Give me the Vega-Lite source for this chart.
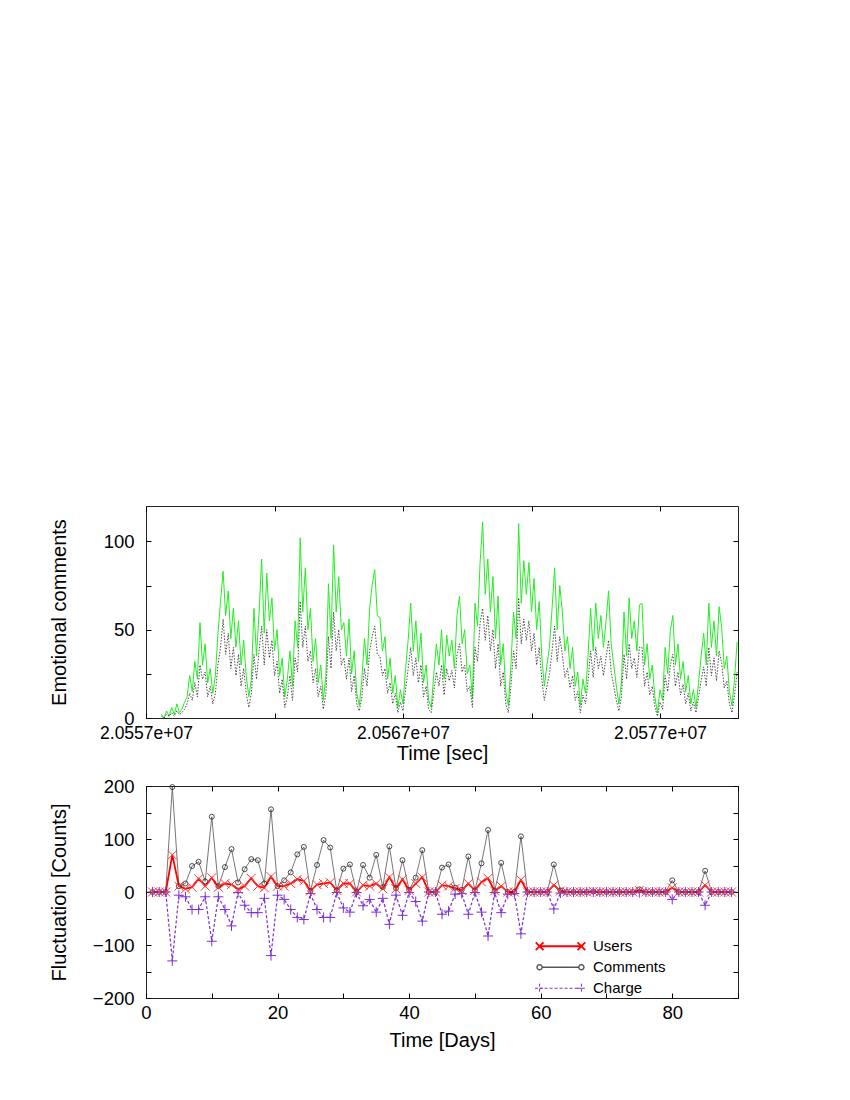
{
  "$schema": "https://vega.github.io/schema/vega-lite/v6.json",
  "background": "white",
  "padding": {"left": 48, "top": 505, "right": 10, "bottom": 10},
  "spacing": 12,
  "config": {
    "font": "Liberation Sans",
    "view": {"stroke": "#222222", "strokeWidth": 1},
    "axis": {"domain": false, "grid": false, "tickColor": "#000000", "tickSize": -5, "labelColor": "#000000", "titleColor": "#000000", "labelFont": "Liberation Sans", "titleFont": "Liberation Sans", "titleFontWeight": "normal", "labelFontSize": 18.5, "titleFontSize": 20, "labelFlush": false, "labelOverlap": false}
  },
  "vconcat": [
    {
      "width": 592,
      "height": 212,
      "data": {"values": [
        {"t":20557600,"g":2,"k":1},{"t":20557700,"g":0,"k":0},{"t":20557800,"g":4,"k":2},{"t":20557900,"g":1,"k":1},{"t":20558000,"g":6,"k":3},
        {"t":20558100,"g":2,"k":1},{"t":20558200,"g":8,"k":4},{"t":20558300,"g":3,"k":2},{"t":20558400,"g":5,"k":3},{"t":20558500,"g":9,"k":5},
        {"t":20558600,"g":12,"k":8},{"t":20558700,"g":24,"k":14},{"t":20558800,"g":15,"k":10},{"t":20558900,"g":32,"k":20},{"t":20559000,"g":22,"k":12},
        {"t":20559100,"g":54,"k":30},{"t":20559200,"g":30,"k":22},{"t":20559300,"g":42,"k":26},{"t":20559400,"g":20,"k":12},{"t":20559500,"g":28,"k":18},
        {"t":20559600,"g":14,"k":8},{"t":20559700,"g":24,"k":14},{"t":20559800,"g":48,"k":30},{"t":20559900,"g":66,"k":40},{"t":20560000,"g":83,"k":56},
        {"t":20560100,"g":58,"k":36},{"t":20560200,"g":72,"k":48},{"t":20560300,"g":45,"k":28},{"t":20560400,"g":62,"k":40},{"t":20560500,"g":40,"k":24},
        {"t":20560600,"g":55,"k":36},{"t":20560700,"g":30,"k":18},{"t":20560800,"g":44,"k":28},{"t":20560900,"g":24,"k":14},{"t":20561000,"g":12,"k":6},
        {"t":20561100,"g":22,"k":14},{"t":20561200,"g":62,"k":36},{"t":20561300,"g":35,"k":22},{"t":20561400,"g":60,"k":38},{"t":20561500,"g":90,"k":52},
        {"t":20561600,"g":48,"k":30},{"t":20561700,"g":82,"k":50},{"t":20561800,"g":55,"k":34},{"t":20561900,"g":68,"k":44},{"t":20562000,"g":38,"k":24},
        {"t":20562100,"g":50,"k":32},{"t":20562200,"g":24,"k":14},{"t":20562300,"g":34,"k":22},{"t":20562400,"g":12,"k":6},{"t":20562500,"g":22,"k":12},
        {"t":20562600,"g":38,"k":24},{"t":20562700,"g":18,"k":10},{"t":20562800,"g":55,"k":34},{"t":20562900,"g":40,"k":26},{"t":20563000,"g":102,"k":66},
        {"t":20563100,"g":60,"k":40},{"t":20563200,"g":85,"k":52},{"t":20563300,"g":50,"k":32},{"t":20563400,"g":62,"k":38},{"t":20563500,"g":32,"k":20},
        {"t":20563600,"g":45,"k":28},{"t":20563700,"g":20,"k":12},{"t":20563800,"g":30,"k":18},{"t":20563900,"g":10,"k":5},{"t":20564000,"g":24,"k":14},
        {"t":20564100,"g":76,"k":46},{"t":20564200,"g":45,"k":28},{"t":20564300,"g":98,"k":60},{"t":20564400,"g":60,"k":38},{"t":20564500,"g":80,"k":50},
        {"t":20564600,"g":50,"k":30},{"t":20564700,"g":54,"k":34},{"t":20564800,"g":35,"k":22},{"t":20564900,"g":56,"k":34},{"t":20565000,"g":25,"k":15},
        {"t":20565100,"g":38,"k":24},{"t":20565200,"g":14,"k":8},{"t":20565300,"g":7,"k":4},{"t":20565400,"g":22,"k":12},{"t":20565500,"g":45,"k":28},
        {"t":20565600,"g":30,"k":18},{"t":20565700,"g":62,"k":38},{"t":20565800,"g":75,"k":46},{"t":20565900,"g":84,"k":52},{"t":20566000,"g":58,"k":36},
        {"t":20566100,"g":57,"k":35},{"t":20566200,"g":38,"k":24},{"t":20566300,"g":46,"k":28},{"t":20566400,"g":22,"k":14},{"t":20566500,"g":34,"k":20},
        {"t":20566600,"g":14,"k":8},{"t":20566700,"g":24,"k":14},{"t":20566800,"g":6,"k":3},{"t":20566900,"g":16,"k":9},{"t":20567000,"g":8,"k":4},
        {"t":20567100,"g":28,"k":16},{"t":20567200,"g":44,"k":28},{"t":20567300,"g":65,"k":40},{"t":20567400,"g":38,"k":24},{"t":20567500,"g":55,"k":34},
        {"t":20567600,"g":32,"k":20},{"t":20567700,"g":48,"k":30},{"t":20567800,"g":20,"k":12},{"t":20567900,"g":30,"k":18},{"t":20568000,"g":10,"k":5},
        {"t":20568100,"g":6,"k":3},{"t":20568200,"g":25,"k":15},{"t":20568300,"g":42,"k":26},{"t":20568400,"g":30,"k":18},{"t":20568500,"g":50,"k":30},
        {"t":20568600,"g":22,"k":13},{"t":20568700,"g":47,"k":28},{"t":20568800,"g":35,"k":21},{"t":20568900,"g":44,"k":27},{"t":20569000,"g":28,"k":17},
        {"t":20569100,"g":58,"k":36},{"t":20569200,"g":69,"k":42},{"t":20569300,"g":42,"k":26},{"t":20569400,"g":50,"k":30},{"t":20569500,"g":25,"k":15},
        {"t":20569600,"g":30,"k":18},{"t":20569700,"g":11,"k":6},{"t":20569800,"g":65,"k":40},{"t":20569900,"g":52,"k":32},{"t":20570000,"g":88,"k":54},
        {"t":20570100,"g":111,"k":62},{"t":20570200,"g":70,"k":44},{"t":20570300,"g":90,"k":58},{"t":20570400,"g":60,"k":38},{"t":20570500,"g":80,"k":50},
        {"t":20570600,"g":45,"k":28},{"t":20570700,"g":69,"k":42},{"t":20570800,"g":30,"k":18},{"t":20570900,"g":42,"k":26},{"t":20571000,"g":15,"k":8},
        {"t":20571100,"g":7,"k":3},{"t":20571200,"g":30,"k":18},{"t":20571300,"g":60,"k":38},{"t":20571400,"g":45,"k":28},{"t":20571500,"g":110,"k":68},
        {"t":20571600,"g":65,"k":42},{"t":20571700,"g":89,"k":56},{"t":20571800,"g":70,"k":44},{"t":20571900,"g":88,"k":55},{"t":20572000,"g":60,"k":38},
        {"t":20572100,"g":79,"k":48},{"t":20572200,"g":50,"k":30},{"t":20572300,"g":66,"k":40},{"t":20572400,"g":35,"k":22},{"t":20572500,"g":18,"k":10},
        {"t":20572600,"g":30,"k":18},{"t":20572700,"g":40,"k":25},{"t":20572800,"g":62,"k":38},{"t":20572900,"g":85,"k":52},{"t":20573000,"g":50,"k":32},
        {"t":20573100,"g":75,"k":46},{"t":20573200,"g":60,"k":36},{"t":20573300,"g":38,"k":23},{"t":20573400,"g":46,"k":28},{"t":20573500,"g":28,"k":17},
        {"t":20573600,"g":40,"k":24},{"t":20573700,"g":18,"k":10},{"t":20573800,"g":26,"k":15},{"t":20573900,"g":7,"k":3},{"t":20574000,"g":22,"k":13},
        {"t":20574100,"g":14,"k":8},{"t":20574200,"g":35,"k":21},{"t":20574300,"g":62,"k":38},{"t":20574400,"g":38,"k":23},{"t":20574500,"g":65,"k":40},
        {"t":20574600,"g":45,"k":28},{"t":20574700,"g":58,"k":35},{"t":20574800,"g":40,"k":24},{"t":20574900,"g":55,"k":34},{"t":20575000,"g":72,"k":44},
        {"t":20575100,"g":42,"k":26},{"t":20575200,"g":30,"k":18},{"t":20575300,"g":18,"k":10},{"t":20575400,"g":8,"k":4},{"t":20575500,"g":20,"k":12},
        {"t":20575600,"g":60,"k":36},{"t":20575700,"g":35,"k":22},{"t":20575800,"g":68,"k":42},{"t":20575900,"g":45,"k":28},{"t":20576000,"g":55,"k":34},
        {"t":20576100,"g":38,"k":23},{"t":20576200,"g":64,"k":40},{"t":20576300,"g":65,"k":40},{"t":20576400,"g":30,"k":18},{"t":20576500,"g":42,"k":26},
        {"t":20576600,"g":22,"k":13},{"t":20576700,"g":30,"k":18},{"t":20576800,"g":12,"k":6},{"t":20576900,"g":3,"k":1},{"t":20577000,"g":16,"k":9},
        {"t":20577100,"g":10,"k":5},{"t":20577200,"g":40,"k":24},{"t":20577300,"g":25,"k":15},{"t":20577400,"g":49,"k":30},{"t":20577500,"g":58,"k":36},
        {"t":20577600,"g":30,"k":18},{"t":20577700,"g":42,"k":26},{"t":20577800,"g":22,"k":13},{"t":20577900,"g":32,"k":19},{"t":20578000,"g":15,"k":8},
        {"t":20578100,"g":24,"k":14},{"t":20578200,"g":8,"k":4},{"t":20578300,"g":16,"k":9},{"t":20578400,"g":6,"k":3},{"t":20578500,"g":20,"k":12},
        {"t":20578600,"g":35,"k":21},{"t":20578700,"g":48,"k":29},{"t":20578800,"g":30,"k":18},{"t":20578900,"g":65,"k":40},{"t":20579000,"g":40,"k":24},
        {"t":20579100,"g":55,"k":34},{"t":20579200,"g":35,"k":21},{"t":20579300,"g":63,"k":38},{"t":20579400,"g":51,"k":31},{"t":20579500,"g":28,"k":17},
        {"t":20579600,"g":35,"k":21},{"t":20579700,"g":15,"k":8},{"t":20579800,"g":7,"k":3},{"t":20579900,"g":22,"k":13},{"t":20580000,"g":43,"k":26}
      ]},
      "layer": [
        {
          "mark": {"type": "line", "color": "#22ee22", "strokeWidth": 1},
          "encoding": {
            "x": {"field": "t", "type": "quantitative", "scale": {"domain": [20557000, 20580035], "nice": false, "zero": false},
              "axis": {"orient": "bottom", "title": "Time [sec]", "values": [20557000, 20562000, 20567000, 20572000, 20577000],
                "labelExpr": "(datum.value - 20557000) % 10000 == 0 ? replace(format(datum.value, '.4e'), 'e+', 'e+0') : ''",
                "labelFontSize": 17.5, "labelPadding": 11, "titleX": 296, "titleY": 35, "titleBaseline": "middle"}},
            "y": {"field": "g", "type": "quantitative", "scale": {"domain": [0, 120], "nice": false, "zero": false},
              "axis": {"orient": "left", "title": "Emotional comments", "values": [0, 25, 50, 75, 100],
                "labelExpr": "datum.value % 50 == 0 ? datum.label : ''", "labelPadding": 17, "titleX": -87, "titleY": 106, "titleBaseline": "middle"}}
          }
        },
        {
          "mark": {"type": "line", "color": "#222222", "strokeWidth": 0.8, "strokeDash": [1.5, 1.5]},
          "encoding": {
            "x": {"field": "t", "type": "quantitative", "axis": {"orient": "top", "labels": false, "title": null, "values": [20557000, 20562000, 20567000, 20572000, 20577000]}},
            "y": {"field": "k", "type": "quantitative", "axis": {"orient": "right", "labels": false, "title": null, "values": [0, 25, 50, 75, 100]}}
          }
        }
      ],
      "resolve": {"axis": {"x": "independent", "y": "independent"}}
    },
    {
      "width": 592,
      "height": 212,
      "data": {"values": [
        {"day":1,"Users":0,"Comments":0,"Charge":0},{"day":2,"Users":0,"Comments":0,"Charge":0},{"day":3,"Users":0,"Comments":0,"Charge":0},
        {"day":4,"Users":70,"Comments":198,"Charge":-130},{"day":5,"Users":11,"Comments":11,"Charge":-6},{"day":6,"Users":6,"Comments":16,"Charge":-9},
        {"day":7,"Users":9,"Comments":49,"Charge":-33},{"day":8,"Users":25,"Comments":57,"Charge":-33},{"day":9,"Users":11,"Comments":20,"Charge":-9},
        {"day":10,"Users":27,"Comments":142,"Charge":-93},{"day":11,"Users":9,"Comments":11,"Charge":-9},{"day":12,"Users":16,"Comments":47,"Charge":-33},
        {"day":13,"Users":14,"Comments":81,"Charge":-64},{"day":14,"Users":5,"Comments":18,"Charge":-1},{"day":15,"Users":11,"Comments":43,"Charge":-25},
        {"day":16,"Users":26,"Comments":62,"Charge":-39},{"day":17,"Users":11,"Comments":60,"Charge":-39},{"day":18,"Users":8,"Comments":16,"Charge":-12},
        {"day":19,"Users":29,"Comments":156,"Charge":-120},{"day":20,"Users":11,"Comments":11,"Charge":-6},{"day":21,"Users":11,"Comments":22,"Charge":-14},
        {"day":22,"Users":16,"Comments":37,"Charge":-33},{"day":23,"Users":24,"Comments":71,"Charge":-48},{"day":24,"Users":21,"Comments":85,"Charge":-52},
        {"day":25,"Users":2,"Comments":2,"Charge":-3},{"day":26,"Users":14,"Comments":51,"Charge":-33},{"day":27,"Users":16,"Comments":98,"Charge":-48},
        {"day":28,"Users":18,"Comments":84,"Charge":-48},{"day":29,"Users":3,"Comments":3,"Charge":-1},{"day":30,"Users":16,"Comments":44,"Charge":-30},
        {"day":31,"Users":16,"Comments":52,"Charge":-38},{"day":32,"Users":0,"Comments":0,"Charge":-1},{"day":33,"Users":13,"Comments":51,"Charge":-26},
        {"day":34,"Users":11,"Comments":27,"Charge":-14},{"day":35,"Users":16,"Comments":70,"Charge":-38},{"day":36,"Users":6,"Comments":9,"Charge":-12},
        {"day":37,"Users":28,"Comments":86,"Charge":-61},{"day":38,"Users":6,"Comments":7,"Charge":-6},{"day":39,"Users":24,"Comments":60,"Charge":-44},
        {"day":40,"Users":3,"Comments":4,"Charge":-1},{"day":41,"Users":16,"Comments":27,"Charge":-18},{"day":42,"Users":28,"Comments":79,"Charge":-55},
        {"day":43,"Users":0,"Comments":0,"Charge":0},{"day":44,"Users":0,"Comments":0,"Charge":0},{"day":45,"Users":13,"Comments":46,"Charge":-42},
        {"day":46,"Users":11,"Comments":52,"Charge":-36},{"day":47,"Users":7,"Comments":8,"Charge":-4},{"day":48,"Users":3,"Comments":4,"Charge":-3},
        {"day":49,"Users":16,"Comments":67,"Charge":-42},{"day":50,"Users":3,"Comments":3,"Charge":-1},{"day":51,"Users":19,"Comments":54,"Charge":-38},
        {"day":52,"Users":26,"Comments":117,"Charge":-83},{"day":53,"Users":2,"Comments":2,"Charge":-1},{"day":54,"Users":11,"Comments":55,"Charge":-39},
        {"day":55,"Users":0,"Comments":0,"Charge":-4},{"day":56,"Users":0,"Comments":0,"Charge":-3},{"day":57,"Users":23,"Comments":105,"Charge":-79},
        {"day":58,"Users":0,"Comments":0,"Charge":0},{"day":59,"Users":0,"Comments":0,"Charge":0},{"day":60,"Users":0,"Comments":0,"Charge":0},
        {"day":61,"Users":0,"Comments":0,"Charge":0},{"day":62,"Users":13,"Comments":52,"Charge":-32},{"day":63,"Users":2,"Comments":3,"Charge":-2},
        {"day":64,"Users":0,"Comments":0,"Charge":0},{"day":65,"Users":0,"Comments":0,"Charge":0},{"day":66,"Users":0,"Comments":0,"Charge":0},
        {"day":67,"Users":0,"Comments":0,"Charge":0},{"day":68,"Users":1,"Comments":1,"Charge":0},{"day":69,"Users":0,"Comments":0,"Charge":0},
        {"day":70,"Users":0,"Comments":0,"Charge":0},{"day":71,"Users":0,"Comments":0,"Charge":0},{"day":72,"Users":0,"Comments":0,"Charge":0},
        {"day":73,"Users":0,"Comments":0,"Charge":0},{"day":74,"Users":0,"Comments":0,"Charge":0},{"day":75,"Users":3,"Comments":5,"Charge":-1},
        {"day":76,"Users":0,"Comments":0,"Charge":0},{"day":77,"Users":0,"Comments":0,"Charge":0},{"day":78,"Users":0,"Comments":0,"Charge":0},
        {"day":79,"Users":0,"Comments":0,"Charge":0},{"day":80,"Users":8,"Comments":22,"Charge":-14},{"day":81,"Users":0,"Comments":0,"Charge":0},
        {"day":82,"Users":0,"Comments":0,"Charge":0},{"day":83,"Users":0,"Comments":0,"Charge":0},{"day":84,"Users":0,"Comments":0,"Charge":0},
        {"day":85,"Users":13,"Comments":40,"Charge":-25},{"day":86,"Users":0,"Comments":0,"Charge":0},{"day":87,"Users":0,"Comments":0,"Charge":0},
        {"day":88,"Users":0,"Comments":0,"Charge":0},{"day":89,"Users":0,"Comments":0,"Charge":0}
      ]},
      "transform": [{"fold": ["Users", "Comments", "Charge"], "as": ["series", "v"]}],
      "layer": [
        {
          "transform": [{"filter": "datum.series == 'Comments'"}],
          "mark": {"type": "line", "color": "#666666", "strokeWidth": 0.9},
          "encoding": {
            "x": {"field": "day", "type": "quantitative", "scale": {"domain": [0, 90], "nice": false, "zero": false},
              "axis": {"orient": "bottom", "title": "Time [Days]", "values": [0, 10, 20, 30, 40, 50, 60, 70, 80, 90],
                "labelExpr": "datum.value % 20 == 0 ? datum.label : ''", "labelPadding": 10, "titleX": 296, "titleY": 42, "titleBaseline": "middle"}},
            "y": {"field": "v", "type": "quantitative", "scale": {"domain": [-200, 200], "nice": false, "zero": false},
              "axis": {"orient": "left", "title": "Fluctuation [Counts]", "values": [-200, -150, -100, -50, 0, 50, 100, 150, 200],
                "labelExpr": "datum.value % 100 == 0 ? datum.label : ''", "labelPadding": 17, "titleX": -87, "titleY": 106, "titleBaseline": "middle"}}
          }
        },
        {
          "transform": [{"filter": "datum.series == 'Charge'"}],
          "mark": {"type": "line", "color": "#7b2fd8", "strokeWidth": 1.2, "strokeDash": [3, 2]},
          "encoding": {
            "x": {"field": "day", "type": "quantitative", "axis": null},
            "y": {"field": "v", "type": "quantitative", "axis": null}
          }
        },
        {
          "transform": [{"filter": "datum.series == 'Users'"}],
          "mark": {"type": "line", "color": "#ff0000", "strokeWidth": 1.8},
          "encoding": {
            "x": {"field": "day", "type": "quantitative", "axis": null},
            "y": {"field": "v", "type": "quantitative", "axis": null}
          }
        },
        {
          "transform": [{"filter": "datum.series == 'Comments'"}],
          "mark": {"type": "point", "shape": "circle", "filled": false, "size": 25, "color": "#222222", "strokeWidth": 0.8, "opacity": 1},
          "encoding": {
            "x": {"field": "day", "type": "quantitative", "axis": null},
            "y": {"field": "v", "type": "quantitative", "axis": null}
          }
        },
        {
          "transform": [{"filter": "datum.series == 'Charge'"}],
          "mark": {"type": "point", "shape": "M-1,0L1,0M0,-1L0,1", "filled": false, "size": 100, "color": "#7b2fd8", "strokeWidth": 1, "opacity": 1},
          "encoding": {
            "x": {"field": "day", "type": "quantitative", "axis": null},
            "y": {"field": "v", "type": "quantitative", "axis": null}
          }
        },
        {
          "transform": [{"filter": "datum.series == 'Users'"}],
          "mark": {"type": "point", "shape": "M-1,-1L1,1M-1,1L1,-1", "filled": false, "size": 81, "color": "#ff3a3a", "strokeWidth": 1, "opacity": 1},
          "encoding": {
            "x": {"field": "day", "type": "quantitative", "axis": {"orient": "top", "labels": false, "title": null, "values": [0, 10, 20, 30, 40, 50, 60, 70, 80, 90]}},
            "y": {"field": "v", "type": "quantitative", "axis": {"orient": "right", "labels": false, "title": null, "values": [-200, -150, -100, -50, 0, 50, 100, 150, 200]}}
          }
        },
        {
          "mark": {"type": "point", "filled": false, "opacity": 0, "size": 2601},
          "encoding": {
            "x": {"field": "day", "type": "quantitative", "axis": null},
            "y": {"field": "v", "type": "quantitative", "axis": null},
            "color": {"field": "series", "type": "nominal",
              "scale": {"domain": ["Users", "Comments", "Charge"], "range": ["#ff0000", "#555555", "#7b2fd8"]},
              "legend": {"orient": "none", "legendX": 388, "legendY": 430, "padding": 0, "clipHeight": 20.5, "title": null, "labelFontSize": 15, "labelFont": "Liberation Sans", "labelColor": "#000000", "symbolOpacity": 1, "symbolSize": 2601, "labelOffset": 6, "rowPadding": 0}},
            "strokeDash": {"field": "series", "type": "nominal",
              "scale": {"domain": ["Users", "Comments", "Charge"], "range": [[1, 0], [1, 0], [3, 2]]}},
            "strokeWidth": {"field": "series", "type": "nominal",
              "scale": {"domain": ["Users", "Comments", "Charge"], "range": [1.8, 1, 1.2]}},
            "shape": {"field": "series", "type": "nominal",
              "scale": {"domain": ["Users", "Comments", "Charge"], "range": [
                "M-0.82,0L0.82,0M-0.97,-0.15L-0.67,0.15M-0.97,0.15L-0.67,-0.15M0.67,-0.15L0.97,0.15M0.67,0.15L0.97,-0.15",
                "M-0.72,0L0.72,0M-0.72,0A0.1,0.1,0,1,0,-0.92,0A0.1,0.1,0,1,0,-0.72,0M0.92,0A0.1,0.1,0,1,0,0.72,0A0.1,0.1,0,1,0,0.92,0",
                "M-0.82,0L0.82,0M-1,0L-0.64,0M-0.82,-0.18L-0.82,0.18M0.64,0L1,0M0.82,-0.18L0.82,0.18"]},
              "legend": {"orient": "none", "legendX": 388, "legendY": 430, "padding": 0, "clipHeight": 20.5, "title": null, "labelFontSize": 15, "labelFont": "Liberation Sans", "labelColor": "#000000", "symbolOpacity": 1, "symbolSize": 2601, "labelOffset": 6, "rowPadding": 0}}
          }
        }
      ],
      "resolve": {"axis": {"x": "independent", "y": "independent"}}
    }
  ]
}
